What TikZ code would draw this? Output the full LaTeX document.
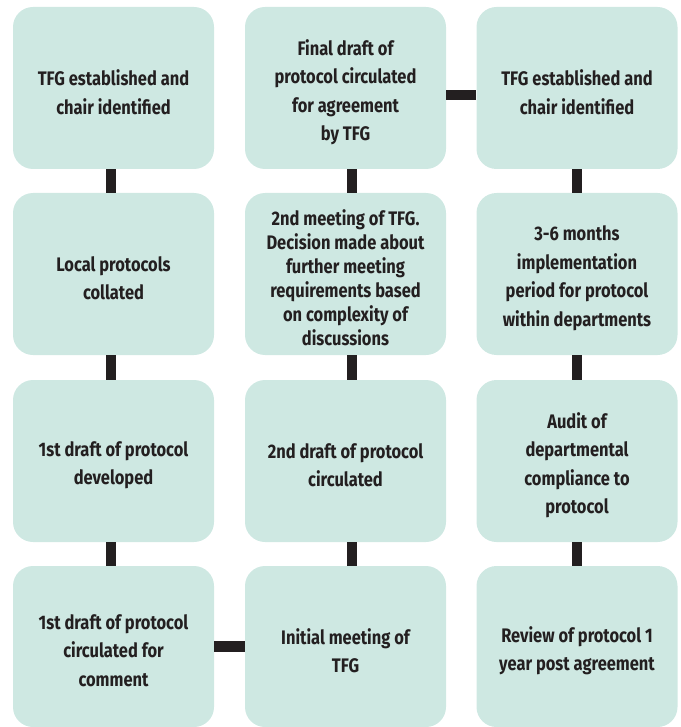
\documentclass[tikz,border=0pt]{standalone}
\usepackage{fontspec}
\setmainfont{Fira Sans}[FakeStretch=0.84]
\usetikzlibrary{positioning}
\definecolor{boxfill}{RGB}{206,232,226}
\definecolor{ink}{RGB}{35,31,32}
\tikzset{
  stepbox/.style={draw=none, fill=boxfill, rounded corners=20pt, minimum width=201pt, minimum height=162pt, inner sep=0pt, align=center, text=ink, font=\fontsize{19.6}{28.5}\selectfont\bfseries},
  conn/.style={draw=ink, line width=10.5pt},
  lbl/.style={align=center, text=ink, inner sep=0pt, font=\fontsize{19.6}{28.5}\selectfont\bfseries}
}
\begin{document}
\begin{tikzpicture}[x=1pt,y=-1pt]
\useasboundingbox (0,0) rectangle (680,727);
% column 1
\node[stepbox] (a1) at (113.5,88) {};
\node[stepbox] (a2) at (113.5,274) {};
\node[stepbox] (a3) at (113.5,461) {};
\node[stepbox, minimum height=161pt] (a4) at (113.5,646.5) {};
% column 2
\node[stepbox] (b1) at (345.5,88) {};
\node[stepbox] (b2) at (345.5,274) {};
\node[stepbox] (b3) at (345.5,461) {};
\node[stepbox, minimum height=161pt] (b4) at (345.5,646.5) {};
% column 3
\node[stepbox] (c1) at (577,88) {};
\node[stepbox] (c2) at (577,274) {};
\node[stepbox] (c3) at (577,461) {};
\node[stepbox, minimum height=161pt] (c4) at (577,646.5) {};
% texts
\node[lbl] (ta1) at ([yshift=-4pt]a1.center) {TFG established and\\chair identified};
\node[lbl] (ta2) at ([yshift=-4pt]a2.center) {Local protocols\\collated};
\node[lbl] (ta3) at ([yshift=-4pt]a3.center) {1st draft of protocol\\developed};
\node[lbl] (ta4) at ([yshift=-4pt]a4.center) {1st draft of protocol\\circulated for\\comment};
\node[lbl] (tb1) at ([yshift=-4pt]b1.center) {Final draft of\\protocol circulated\\for agreement\\by TFG};
\node[lbl, font=\fontsize{19.6}{24}\selectfont\bfseries] (tb2) at ([yshift=-4pt]b2.center) {2nd meeting of TFG.\\Decision made about\\further meeting\\requirements based\\on complexity of\\discussions};
\node[lbl] (tb3) at ([yshift=-4pt]b3.center) {2nd draft of protocol\\circulated};
\node[lbl] (tb4) at ([yshift=-4pt]b4.center) {Initial meeting of\\TFG};
\node[lbl] (tc1) at ([yshift=-4pt]c1.center) {TFG established and\\chair identified};
\node[lbl] (tc2) at ([yshift=-4pt]c2.center) {3-6 months\\implementation\\period for protocol\\within departments};
\node[lbl] (tc3) at ([yshift=-4pt]c3.center) {Audit of\\departmental\\compliance to\\protocol};
\node[lbl] (tc4) at ([yshift=-4pt]c4.center) {Review of protocol 1\\year post agreement};
% connectors
\draw[conn] ([xshift=-2.5pt]a1.south) -- ([xshift=-2.5pt]a2.north);
\draw[conn] ([xshift=-2.5pt]a2.south) -- ([xshift=-2.5pt]a3.north);
\draw[conn] ([xshift=-2.5pt]a3.south) -- ([xshift=-2.5pt]a4.north);
\draw[conn] (a4.east) -- (b4.west);
\draw[conn] ([xshift=6.5pt]b4.north) -- ([xshift=6.5pt]b3.south);
\draw[conn] ([xshift=6.5pt]b3.north) -- ([xshift=6.5pt]b2.south);
\draw[conn] ([xshift=6.5pt]b2.north) -- ([xshift=6.5pt]b1.south);
\draw[conn] ([yshift=-7pt]b1.east) -- ([yshift=-7pt]c1.west);
\draw[conn] (c1.south) -- (c2.north);
\draw[conn] (c2.south) -- (c3.north);
\draw[conn] (c3.south) -- (c4.north);
\end{tikzpicture}
\end{document}
